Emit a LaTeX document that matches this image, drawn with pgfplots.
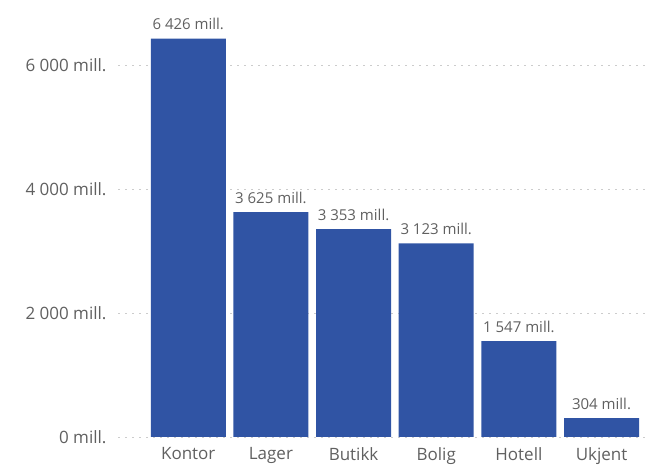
\documentclass[border=0pt]{standalone}
\usepackage{pgfplots}
\pgfplotsset{compat=1.18}
\usepackage{fontspec}
\setmainfont{Open Sans}
\definecolor{barblue}{RGB}{48,84,164}
\definecolor{txtgray}{RGB}{96,96,96}
\begin{document}
\begin{tikzpicture}
\useasboundingbox (0,0) rectangle (647pt,470pt);
\begin{axis}[
    at={(118pt,33pt)}, anchor=south west,
    scale only axis,
    width=529pt, height=434pt,
    ybar, bar width=75pt,
    xmin=-0.85, xmax=5.55,
    ymin=0, ymax=7000,
    axis line style={draw=none},
    major tick length=0pt,
    clip=false,
    xtick=data,
    xticklabels={Kontor,Lager,Butikk,Bolig,Hotell,Ukjent},
    ytick={0,2000,4000,6000},
    yticklabels={0 mill.,2 000 mill.,4 000 mill.,6 000 mill.},
    ymajorgrids,
    major grid style={gray!40, line width=0.9pt, dash pattern=on 2pt off 5pt},
    tick label style={font=\fontsize{17}{19}\selectfont, text=txtgray},
    yticklabel style={anchor=east, xshift=-8pt},
    xticklabel style={anchor=north, yshift=-7pt},
    point meta=explicit symbolic,
    nodes near coords,
    nodes near coords style={font=\fontsize{15}{17}\selectfont, text=txtgray, anchor=south, yshift=5pt},
]
\addplot[fill=barblue, draw=none] coordinates {
    (0,6426) [6 426 mill.]
    (1,3625) [3 625 mill.]
    (2,3353) [3 353 mill.]
    (3,3123) [3 123 mill.]
    (4,1547) [1 547 mill.]
    (5,304)  [304 mill.]
};
\end{axis}
\end{tikzpicture}
\end{document}
